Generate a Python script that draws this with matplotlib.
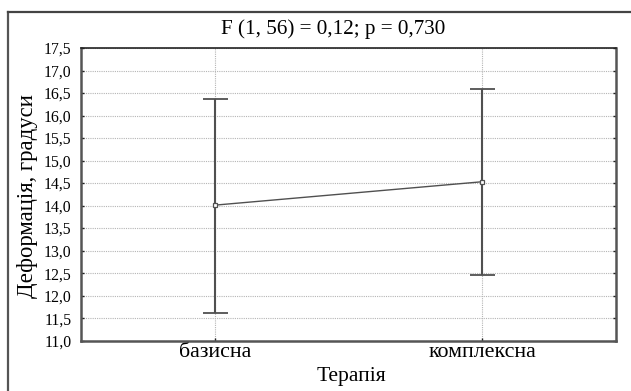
import matplotlib
matplotlib.use("Agg")
import matplotlib.pyplot as plt
from matplotlib.lines import Line2D
import numpy as np

# Data
categories = ["базисна", "комплексна"]
means = [14.01, 14.53]
upper = [16.37, 16.60]
lower = [11.62, 12.47]
yticks = [11.0, 11.5, 12.0, 12.5, 13.0, 13.5, 14.0, 14.5, 15.0, 15.5, 16.0, 16.5, 17.0, 17.5]
title = "F (1, 56) = 0,12; p = 0,730"
xlabel = "Терапія"
ylabel = "Деформація, градуси"

plt.rcParams['font.family'] = ['Liberation Serif', 'DejaVu Serif']

W, H = 631, 391
fig = plt.figure(figsize=(W / 100, H / 100), dpi=100)
fig.patch.set_facecolor("white")

ax = fig.add_axes([81 / W, (H - 340.7) / H, (616 - 81) / W, (340.7 - 48) / H])

x = np.arange(len(categories))
m = np.array(means)
yerr = np.vstack([m - np.array(lower), np.array(upper) - m])

col = "#505050"
ax.plot(x, m, color=col, lw=1.0, zorder=3)
ax.errorbar(x, m, yerr=yerr, fmt="none", ecolor=col, elinewidth=1.5,
            capsize=9, capthick=1.3, zorder=3)
ax.plot(x, m, ls="none", marker="s", markersize=3.2, markerfacecolor="white",
        markeredgecolor=col, markeredgewidth=0.9, zorder=4)

ax.set_xlim(-0.5, 1.5)
ax.set_ylim(11.0, 17.5)
ax.set_xticks(x)
ax.set_xticklabels(categories, fontsize=15.8)
ax.set_yticks(yticks)
ax.set_yticklabels([f"{v:.1f}".replace(".", ",") for v in yticks], fontsize=11.3)

ax.grid(True, ls=(0, (1, 1)), color="#b5b5b5", lw=0.8)
ax.set_axisbelow(True)

ax.tick_params(axis="y", direction="in", length=2.5, width=1.0, left=True,
               right=True, pad=7, color="#222222")
ax.tick_params(axis="x", direction="in", length=2.5, width=1.0, bottom=True,
               top=False, pad=1.5, color="#222222")

for name, sp in ax.spines.items():
    sp.set_color("#555555")
    sp.set_linewidth(1.8)
ax.spines["top"].set_color("#222222")
ax.spines["top"].set_linewidth(1.2)

fig.text(333.5 / W, 1 - 29 / H, title, ha="center", va="center", fontsize=15.2)
fig.text(351 / W, 1 - 376 / H, xlabel, ha="center", va="center", fontsize=15.6)
fig.text(28 / W, 1 - 196 / H, ylabel, ha="center", va="center", rotation=90,
         fontsize=16.4)

# outer frame (left and top edges visible)
fig.add_artist(Line2D([7.5 / W, 7.5 / W], [0, 1 - 12 / H], transform=fig.transFigure,
                      color="#555555", lw=1.6))
fig.add_artist(Line2D([7.5 / W, 1.0], [1 - 12 / H, 1 - 12 / H], transform=fig.transFigure,
                      color="#444444", lw=1.6))

fig.savefig("out.png", dpi=100)
